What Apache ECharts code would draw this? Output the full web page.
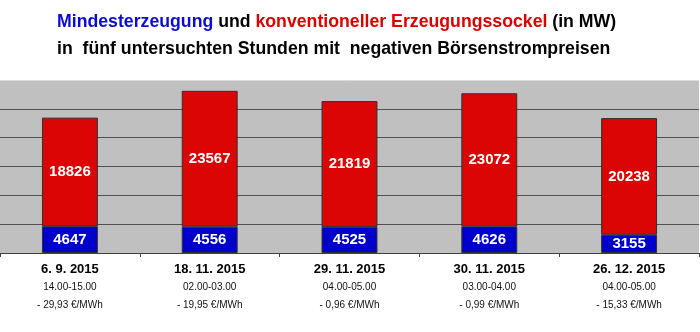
<!DOCTYPE html>
<html>
<head>
<meta charset="utf-8">
<script src="https://cdn.jsdelivr.net/npm/echarts@6/dist/echarts.min.js"></script>
<style>html,body{margin:0;padding:0;background:#fff}#c{width:700px;height:332px}</style>
</head>
<body>
<div id="c"></div>
<script>
const dates = ['6. 9. 2015', '18. 11. 2015', '29. 11. 2015', '30. 11. 2015', '26. 12. 2015'];
const hours = ['14.00-15.00', '02.00-03.00', '04.00-05.00', '03.00-04.00', '04.00-05.00'];
const prices = ['- 29,93 €/MWh', '- 19,95 €/MWh', '- 0,96 €/MWh', '- 0,99 €/MWh', '- 15,33 €/MWh'];
const mindest = [4647, 4556, 4525, 4626, 3155];
const sockel = [18826, 23567, 21819, 23072, 20238];
const yTicks = [0, 5000, 10000, 15000, 20000, 25000, 30000];

const sans = '"Liberation Sans", Arial, sans-serif';

const chart = echarts.init(document.getElementById('c'), null, {renderer: 'canvas'});
chart.setOption({
  animation: false,
  backgroundColor: '#fff',
  title: {
    left: 57,
    top: 9,
    padding: 0,
    text: '{b|Mindesterzeugung} {k|und} {r|konventioneller Erzeugungssockel} {k|(in MW)}\n{k|in  fünf untersuchten Stunden mit  negativen Börsenstrompreisen}',
    textStyle: {
      fontFamily: sans,
      fontSize: 17.7,
      fontWeight: 'bold',
      lineHeight: 26.5,
      rich: {
        b: {color: '#0b0bd2', fontFamily: sans, fontSize: 17.7, fontWeight: 'bold', lineHeight: 26.5},
        r: {color: '#e00000', fontFamily: sans, fontSize: 17.7, fontWeight: 'bold', lineHeight: 26.5},
        k: {color: '#000', fontFamily: sans, fontSize: 17.7, fontWeight: 'bold', lineHeight: 26.5}
      }
    }
  },
  grid: {
    left: 0, right: 1, top: 80, bottom: 79,
    show: true, backgroundColor: '#c0c0c0', borderWidth: 0
  },
  xAxis: {
    type: 'category',
    data: dates,
    axisLine: {show: true, lineStyle: {color: '#404040', width: 1}},
    axisTick: {show: true, length: 4, lineStyle: {color: '#404040'}},
    axisLabel: {
      interval: 0,
      margin: 7,
      formatter: function (v, i) {
        return '{d|' + dates[i] + '}\n{t|' + hours[i] + '}\n{p|' + prices[i] + '}';
      },
      rich: {
        d: {fontFamily: sans, fontSize: 13, fontWeight: 'bold', color: '#000', lineHeight: 18},
        t: {fontFamily: sans, fontSize: 10, color: '#111', lineHeight: 18},
        p: {fontFamily: sans, fontSize: 10, color: '#111', lineHeight: 18}
      }
    }
  },
  yAxis: {
    type: 'value',
    min: yTicks[0],
    max: yTicks[yTicks.length - 1],
    interval: yTicks[1] - yTicks[0],
    axisLine: {show: false},
    axisTick: {show: false},
    axisLabel: {show: false},
    splitLine: {
      show: true,
      lineStyle: {color: ['#505050', '#505050', '#505050', '#505050', '#505050', '#505050', '#dcdcdc'], width: 1}
    }
  },
  series: [
    {
      name: 'Mindesterzeugung',
      type: 'bar',
      stack: 'a',
      data: mindest,
      barWidth: '40%',
      itemStyle: {color: '#0000cc', borderColor: '#303030', borderWidth: 1},
      label: {show: true, position: 'inside', color: '#fff', fontFamily: sans, fontWeight: 'bold', fontSize: 15}
    },
    {
      name: 'Erzeugungssockel',
      type: 'bar',
      stack: 'a',
      data: sockel,
      barWidth: '40%',
      itemStyle: {color: '#dc0505', borderColor: '#303030', borderWidth: 1},
      label: {show: true, position: 'inside', color: '#fff', fontFamily: sans, fontWeight: 'bold', fontSize: 15}
    }
  ]
});
</script>
</body>
</html>
